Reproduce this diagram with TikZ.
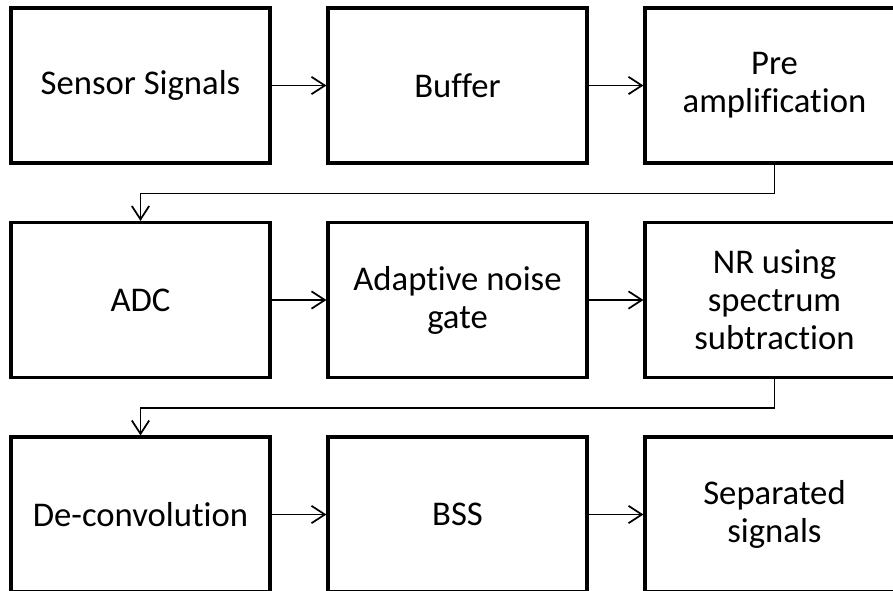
\documentclass[tikz,border=0pt]{standalone}
\usepackage{fontspec}
\setmainfont{Carlito}[RawFeature={-liga;-dlig;-clig}]
\usetikzlibrary{positioning}
\usetikzlibrary{arrows.meta}

\begin{document}
\begin{tikzpicture}[x=0.75pt, y=-0.75pt, black, align=center,
    blk/.style={draw, line width=2.6pt, minimum width=194pt, minimum height=116pt,
      font=\fontsize{26}{28.5}\selectfont},
    flow/.style={line width=1.3pt, -{Straight Barb[length=10pt,width=13pt,line width=1.3pt]}}]
  \useasboundingbox (0,0) rectangle (893,590);
  \clip (0,0) rectangle (893,590);
  \node[blk] (sensor) at (140.5,85.5) {Sensor Signals};
  \node[blk] (buffer) at (457.5,85.5) {Buffer};
  \node[blk] (pre) at (774.5,85.5) {Pre\\amplification};
  \node[blk] (adc) at (140.5,300) {ADC};
  \node[blk] (gate) at (457.5,300) {Adaptive noise\\gate};
  \node[blk] (nr) at (774.5,300) {NR using\\spectrum\\subtraction};
  \node[blk] (deconv) at (140.5,514.5) {De-convolution};
  \node[blk] (bss) at (457.5,514.5) {BSS};
  \node[blk] (sep) at (774.5,514.5) {Separated\\signals};
  \draw[flow] (sensor) -- (buffer);
  \draw[flow] (buffer) -- (pre);
  \draw[flow] (pre.south) -- ++(0,29) -| (adc.north);
  \draw[flow] (adc) -- (gate);
  \draw[flow] (gate) -- (nr);
  \draw[flow] (nr.south) -- ++(0,29) -| (deconv.north);
  \draw[flow] (deconv) -- (bss);
  \draw[flow] (bss) -- (sep);
\end{tikzpicture}
\end{document}
